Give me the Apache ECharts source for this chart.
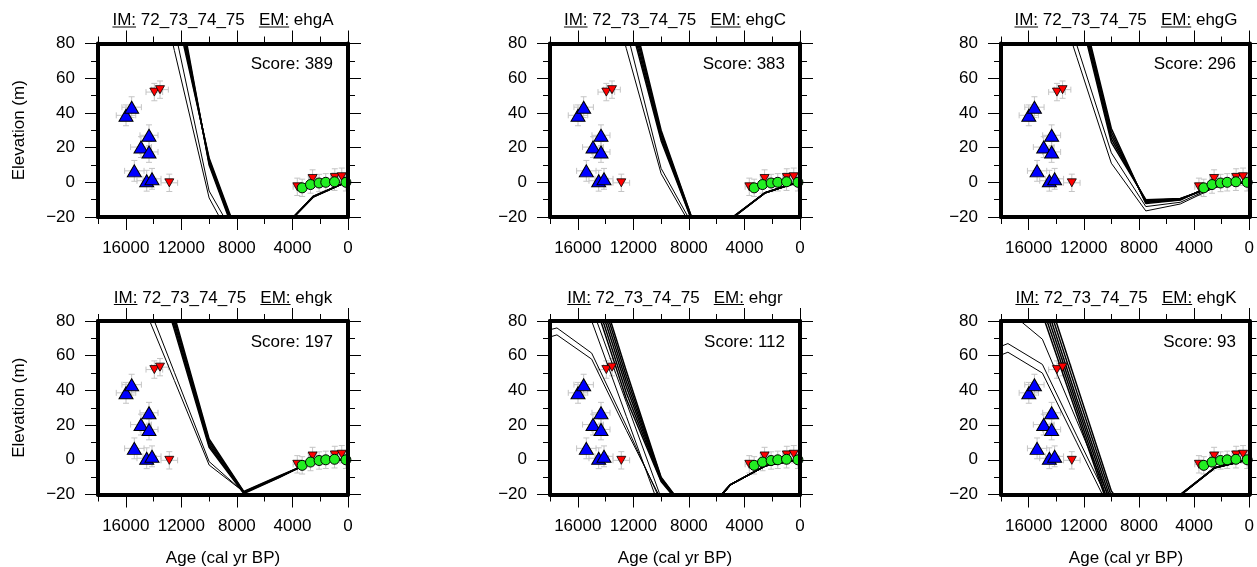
<!DOCTYPE html>
<html><head><meta charset="utf-8">
<script src="https://cdn.jsdelivr.net/npm/echarts@6/dist/echarts.min.js"></script>
<style>html,body{margin:0;padding:0;background:#fff}#c{width:1257px;height:567px}</style>
</head><body><div id="c"></div>
<script>
// ---------------- DATA ----------------
const IM_LABEL = '72_73_74_75';
const EM_NAMES = ['ehgA', 'ehgC', 'ehgG', 'ehgk', 'ehgr', 'ehgK'];
const SCORES = [389, 383, 296, 197, 112, 93];
const X_TICKS = [0, 4000, 8000, 12000, 16000];
const X_MINOR = [2000, 6000, 10000, 14000, 18000];

// observations (same in every panel)
const BLUE_AGE = [15984, 15576, 14328, 14904, 14328, 15384, 14494, 14112];
const BLUE_ELEV = [38.6, 43.3, 27.1, 20.3, 17.5, 6.6, 0.9, 2.0];
const BLUE_AGE_ERR = [700, 700, 650, 750, 650, 700, 700, 650];
const BLUE_ELEV_ERR = [6, 6, 6, 6, 6, 6, 6, 6];

const RED_AGE = [13944, 13536, 12866, 3650, 2550, 950, 450];
const RED_ELEV = [52, 53.4, -0.3, -2.6, 2.2, 2.8, 3.2];
const RED_AGE_ERR = [600, 600, 600, 300, 300, 300, 300];
const RED_ELEV_ERR = [5, 5, 5, 5, 5, 5, 5];

const GREEN_AGE = [3300, 2700, 2080, 1600, 970, 150];
const GREEN_ELEV = [-3.2, -1.3, -0.4, 0, 0.3, 0];
const GREEN_AGE_ERR = [250, 250, 250, 250, 250, 250];
const GREEN_ELEV_ERR = [5, 5, 5, 5, 5, 5];

// model curves: elevations at MODEL_AGES
const MODEL_AGES = [20000, 17500, 15000, 12500, 10000, 7500, 5000, 2500, 0];

const EHGA_BUNDLE = [
  [null, null, null, 103, 14, -40, -29, -8.5, 0.5],
  [null, null, null, 107, 13, -41, -29, -8.4, 0.5],
  [null, null, null, 111, 12, -42, -29, -8.3, 0.5],
  [null, null, null, 115, 11, -43, -29, -8.1, 0.5],
  [null, null, null, 119, 10, -44, -29, -8.0, 0.5]];
const EHGA_THIN = [
  [null, null, 160, 76, -9, -46, -29, -8.3, 0.5],
  [null, null, null, 89, -5, -40, -29, -8.3, 0.5]];

const EHGC_BUNDLE = [
  [null, null, null, 100, 24.0, -28, -21.5, -6, 0.5],
  [null, null, null, 103, 25.5, -28, -21.3, -6, 0.5],
  [null, null, null, 106, 27.0, -27.5, -21.2, -6, 0.5],
  [null, null, null, 109, 28.5, -27, -21.0, -6, 0.5],
  [null, null, null, 112, 30.0, -27, -21.0, -6, 0.5]];
const EHGC_THIN = [
  [null, null, 149, 77, 5, -30, -21.2, -6, 0.5],
  [null, null, null, 88, 8, -28, -21.2, -6, 0.5]];

const EHGG_BUNDLE = [
  [null, null, null, 104, 23, -10.0, -9.3, -2.5, 0.3],
  [null, null, null, 106, 25, -10.6, -9.5, -2.1, 0.3],
  [null, null, null, 108, 27, -11.2, -9.8, -1.7, 0.3],
  [null, null, null, 110, 29, -11.7, -10.0, -1.3, 0.3],
  [null, null, null, 112, 31, -12.2, -10.2, -1.0, 0.3]];
const EHGG_THIN = [
  [null, null, 133, 72, 11, -16.5, -12.5, -3, 0.3],
  [null, null, 141, 79, 17, -14.0, -11.5, -2.5, 0.3]];

const EHGK_LOW_BUNDLE = [
  [null, null, 152, 83, 12.0, -18.3, -9.5, -1.0, 0.3],
  [null, null, 149, 81, 10.8, -18.5, -9.8, -0.9, 0.3],
  [null, null, 146, 79, 9.6, -18.8, -10.0, -0.7, 0.3],
  [null, null, 143, 77, 8.4, -19.1, -10.2, -0.6, 0.3],
  [null, null, 140, 75, 7.2, -19.4, -10.4, -0.5, 0.3]];
const EHGK_LOW_THIN = [
  [null, null, 94, 45.7, -3, -18.5, -10, -1, 0.3],
  [null, null, 101.7, 50.4, -1, -18.7, -10, -1, 0.3]];

const EHGR_BUNDLE = [
  [null, null, 96, 35, -12.5, -36.5, -14.3, -3.5, 0.3],
  [null, null, 100, 38.5, -12.0, -36.5, -14.3, -3.5, 0.3],
  [null, null, 104, 42, -11.5, -36.5, -14.3, -3.5, 0.3],
  [null, null, 108, 45, -11.0, -36.5, -14.3, -3.5, 0.3],
  [null, null, 112, 48, -10.5, -36.5, -14.3, -3.5, 0.3],
  [null, null, 115, 51, -10.0, -36.5, -14.3, -3.5, 0.3]];
const EHGR_THIN = [
  [71, 76, 61.5, 19.5, -24.5, -40, -14.3, -3.5, 0.3],
  [66, 72, 58, 17, -23, -40, -14.3, -3.5, 0.3],
  [null, 135, 80, 25, -30, -40, -14.3, -3.5, 0.3],
  [null, 143, 88, 33, -22, -40, -14.3, -3.5, 0.3]];

const EHGK_UP_BUNDLE = [
  [null, null, 84, 26, -32, -45, -20.5, -4.7, 0.2],
  [null, null, 88, 29, -30, -45, -20.4, -4.6, 0.2],
  [null, null, 92, 32, -27, -45, -20.3, -4.6, 0.2],
  [null, null, 96, 35, -24, -45, -20.2, -4.5, 0.2],
  [null, null, 100, 39, -21, -45, -20.1, -4.5, 0.2],
  [null, null, 104, 43, -18, -45, -20.0, -4.5, 0.2]];
const EHGK_UP_THIN = [
  [59, 67, 55, 13.8, -27, -45, -20.5, -4.7, 0.2],
  [54, 62, 50, 9.8, -30.5, -45, -20.5, -4.7, 0.2],
  [102, 86, 69.5, 22.4, -24.7, -45, -20.5, -4.7, 0.2]];

const BUNDLES = [EHGA_BUNDLE, EHGC_BUNDLE, EHGG_BUNDLE, EHGK_LOW_BUNDLE, EHGR_BUNDLE, EHGK_UP_BUNDLE];
const THINS = [EHGA_THIN, EHGC_THIN, EHGG_THIN, EHGK_LOW_THIN, EHGR_THIN, EHGK_UP_THIN];

// ---------------- LAYOUT ----------------
const COL_LEFT = [98, 550, 1001];
const ROW_TOP = [43.5, 321];
const GW = 250, GH = 173.5;
const FONT = '"Liberation Sans", Arial, Helvetica, sans-serif';
const FS = 17;

const measure = (() => {
  const ctx = document.createElement('canvas').getContext('2d');
  ctx.font = FS + 'px ' + FONT;
  return s => ctx.measureText(s).width;
})();

const zip4 = (a, b, c, d) => a.map((v, i) => [v, b[i], c[i], d[i]]);
const zip2 = (a, b) => a.map((v, i) => [v, b[i]]);

function errBar(params, api) {
  const x = api.value(0), y = api.value(1), ex = api.value(2), ey = api.value(3);
  const l = api.coord([x + ex, y]), r = api.coord([x - ex, y]);
  const t = api.coord([x, y + ey]), b = api.coord([x, y - ey]);
  const c = 3, st = { stroke: '#c4c4c4', lineWidth: 1 };
  const L = (x1, y1, x2, y2) => ({ type: 'line', shape: { x1, y1, x2, y2 }, style: st });
  return { type: 'group', children: [
    L(l[0], l[1], r[0], r[1]), L(t[0], t[1], b[0], b[1]),
    L(l[0], l[1] - c, l[0], l[1] + c), L(r[0], r[1] - c, r[0], r[1] + c),
    L(t[0] - c, t[1], t[0] + c, t[1]), L(b[0] - c, b[1], b[0] + c, b[1])
  ] };
}

const grids = [], xAxes = [], yAxes = [], series = [], graphics = [];
const xfmt = v => (v === 18000 ? '' : String(v));
const yfmt = v => (v < 0 ? '\u2212' + Math.abs(v) : String(v));
const lineSt = { color: '#000', width: 1 };

EM_NAMES.forEach((em, i) => {
  const row = Math.floor(i / 3), col = i % 3;
  const left = COL_LEFT[col], top = ROW_TOP[row];
  grids.push({ left, top, width: GW, height: GH, containLabel: false });

  const xBase = { type: 'value', gridIndex: i, min: 0, max: 18000, interval: 4000, inverse: true,
    splitLine: { show: false }, z: 10,
    axisLine: { show: true, onZero: false, lineStyle: { color: '#000', width: 4 } } };
  const xi = xAxes.length;
  xAxes.push(Object.assign({}, xBase, { position: 'bottom',
    axisTick: { show: true, length: 13, customValues: X_TICKS, lineStyle: lineSt },
    axisLabel: { show: true, customValues: X_TICKS, margin: 23, fontSize: FS, fontFamily: FONT, color: '#000', formatter: xfmt } }));
  xAxes.push(Object.assign({}, xBase, { position: 'bottom', axisLine: { show: false, onZero: false },
    axisTick: { show: true, length: 7, customValues: X_MINOR, lineStyle: lineSt }, axisLabel: { show: false } }));
  xAxes.push(Object.assign({}, xBase, { position: 'top',
    axisTick: { show: true, length: 13, customValues: X_TICKS, lineStyle: lineSt }, axisLabel: { show: false } }));
  xAxes.push(Object.assign({}, xBase, { position: 'top', axisLine: { show: false, onZero: false },
    axisTick: { show: true, length: 7, customValues: X_MINOR, lineStyle: lineSt }, axisLabel: { show: false } }));

  const yBase = { type: 'value', gridIndex: i, min: -20, max: 80, interval: 20,
    splitLine: { show: false }, minorSplitLine: { show: false }, z: 10,
    axisLine: { show: true, onZero: false, lineStyle: { color: '#000', width: 4 } },
    axisTick: { show: true, length: 13, lineStyle: lineSt },
    minorTick: { show: true, splitNumber: 2, length: 7, lineStyle: lineSt } };
  const yi = yAxes.length;
  yAxes.push(Object.assign({}, yBase, { position: 'left',
    axisLabel: { show: true, margin: 23, fontSize: FS, fontFamily: FONT, color: '#000', formatter: yfmt } }));
  yAxes.push(Object.assign({}, yBase, { position: 'right', axisLabel: { show: false } }));

  const ax = { xAxisIndex: xi, yAxisIndex: yi };

  // error bars
  [[BLUE_AGE, BLUE_ELEV, BLUE_AGE_ERR, BLUE_ELEV_ERR],
   [RED_AGE, RED_ELEV, RED_AGE_ERR, RED_ELEV_ERR],
   [GREEN_AGE, GREEN_ELEV, GREEN_AGE_ERR, GREEN_ELEV_ERR]].forEach(g => {
    series.push(Object.assign({ type: 'custom', renderItem: errBar, data: zip4(...g),
      encode: { x: 0, y: 1 }, z: 1, silent: true, clip: true, animation: false }, ax));
  });

  // model lines
  const addLine = (vals, w) => series.push(Object.assign({ type: 'line', z: 2, silent: true,
    data: MODEL_AGES.map((a, k) => [a, vals[k]]), showSymbol: false, symbol: 'none',
    connectNulls: false, clip: true, animation: false,
    lineStyle: { color: '#000', width: w } }, ax));
  THINS[i].forEach(v => addLine(v, 1));
  BUNDLES[i].forEach(v => addLine(v, 1.5));

  // markers
  series.push(Object.assign({ type: 'scatter', z: 3, data: zip2(RED_AGE, RED_ELEV), symbol: 'triangle',
    symbolRotate: 180, symbolSize: [9, 8], animation: false,
    itemStyle: { color: '#ff0000', borderColor: '#000', borderWidth: 0.8, opacity: 1 } }, ax));
  series.push(Object.assign({ type: 'scatter', z: 3, data: zip2(BLUE_AGE, BLUE_ELEV), symbol: 'triangle',
    symbolSize: [14, 12], animation: false,
    itemStyle: { color: '#0000ff', borderColor: '#000', borderWidth: 1, opacity: 1 } }, ax));
  series.push(Object.assign({ type: 'scatter', z: 3, data: zip2(GREEN_AGE, GREEN_ELEV), symbol: 'circle',
    symbolSize: 10, animation: false,
    itemStyle: { color: '#22ee22', borderColor: '#000', borderWidth: 1, opacity: 1 } }, ax));

  // title with underlines
  const parts = ['IM:', ' ' + IM_LABEL + '   ', 'EM:', ' ' + em];
  const widths = parts.map(measure);
  const total = widths.reduce((a, b) => a + b, 0);
  let x = left + GW / 2 - total / 2;
  const ty = top - 23, uy = top - 16.5;
  parts.forEach((s, k) => {
    graphics.push({ type: 'text', x, y: ty, z: 20, silent: true,
      style: { text: s, fill: '#000', font: FS + 'px ' + FONT, align: 'left', verticalAlign: 'middle' } });
    if (k === 0 || k === 2) {
      graphics.push({ type: 'line', z: 20, silent: true,
        shape: { x1: x, y1: uy, x2: x + widths[k], y2: uy }, style: { stroke: '#000', lineWidth: 1 } });
    }
    x += widths[k];
  });

  // score
  graphics.push({ type: 'text', x: left + GW - 15, y: top + 21, z: 20, silent: true,
    style: { text: 'Score: ' + SCORES[i], fill: '#000', font: FS + 'px ' + FONT, align: 'right', verticalAlign: 'middle' } });

  if (col === 0) {
    graphics.push({ type: 'text', x: 19, y: top + GH / 2, rotation: Math.PI / 2, z: 20, silent: true,
      style: { text: 'Elevation (m)', fill: '#000', font: FS + 'px ' + FONT, align: 'center', verticalAlign: 'middle' } });
  }
  if (row === 1) {
    graphics.push({ type: 'text', x: left + GW / 2, y: 558, z: 20, silent: true,
      style: { text: 'Age (cal yr BP)', fill: '#000', font: FS + 'px ' + FONT, align: 'center', verticalAlign: 'middle' } });
  }
});

const chart = echarts.init(document.getElementById('c'), null, { renderer: 'canvas' });
chart.setOption({
  animation: false,
  backgroundColor: '#fff',
  grid: grids, xAxis: xAxes, yAxis: yAxes, series, graphic: graphics
});
</script></body></html>
